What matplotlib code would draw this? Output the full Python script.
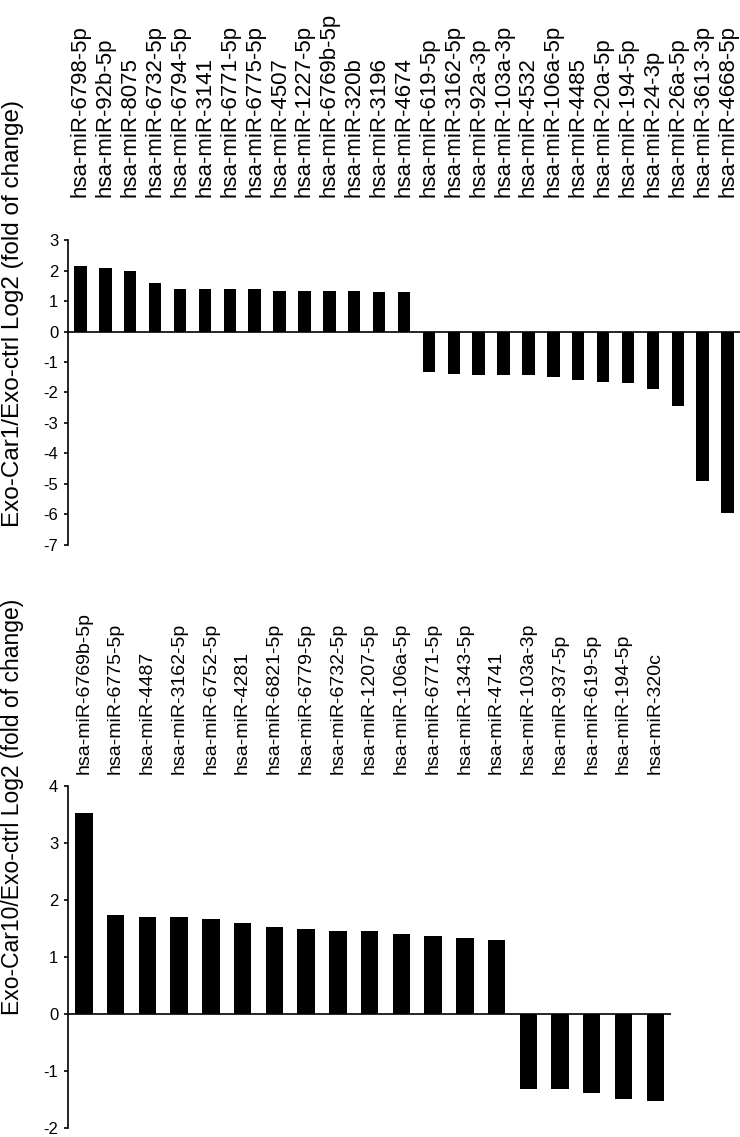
import numpy as np
import matplotlib
matplotlib.use('Agg')
import matplotlib.pyplot as plt

plt.rcParams['font.family'] = ['Liberation Sans', 'DejaVu Sans']
plt.rcParams['axes.unicode_minus'] = False

# Panel 1: Exo-Car1 vs Exo-ctrl
car1_labels = ['hsa-miR-6798-5p', 'hsa-miR-92b-5p', 'hsa-miR-8075', 'hsa-miR-6732-5p',
               'hsa-miR-6794-5p', 'hsa-miR-3141', 'hsa-miR-6771-5p', 'hsa-miR-6775-5p',
               'hsa-miR-4507', 'hsa-miR-1227-5p', 'hsa-miR-6769b-5p', 'hsa-miR-320b',
               'hsa-miR-3196', 'hsa-miR-4674', 'hsa-miR-619-5p', 'hsa-miR-3162-5p',
               'hsa-miR-92a-3p', 'hsa-miR-103a-3p', 'hsa-miR-4532', 'hsa-miR-106a-5p',
               'hsa-miR-4485', 'hsa-miR-20a-5p', 'hsa-miR-194-5p', 'hsa-miR-24-3p',
               'hsa-miR-26a-5p', 'hsa-miR-3613-3p', 'hsa-miR-4668-5p']
car1_values = [2.14, 2.09, 2.0, 1.59, 1.39, 1.39, 1.39, 1.39, 1.33, 1.33, 1.33, 1.33,
               1.29, 1.29, -1.34, -1.39, -1.44, -1.44, -1.44, -1.49, -1.6, -1.65,
               -1.7, -1.9, -2.45, -4.89, -5.95]

# Panel 2: Exo-Car10 vs Exo-ctrl
car10_labels = ['hsa-miR-6769b-5p', 'hsa-miR-6775-5p', 'hsa-miR-4487', 'hsa-miR-3162-5p',
                'hsa-miR-6752-5p', 'hsa-miR-4281', 'hsa-miR-6821-5p', 'hsa-miR-6779-5p',
                'hsa-miR-6732-5p', 'hsa-miR-1207-5p', 'hsa-miR-106a-5p', 'hsa-miR-6771-5p',
                'hsa-miR-1343-5p', 'hsa-miR-4741', 'hsa-miR-103a-3p', 'hsa-miR-937-5p',
                'hsa-miR-619-5p', 'hsa-miR-194-5p', 'hsa-miR-320c']
car10_values = [3.53, 1.74, 1.71, 1.71, 1.66, 1.6, 1.52, 1.49, 1.46, 1.46, 1.41, 1.36,
                1.33, 1.3, -1.32, -1.32, -1.38, -1.49, -1.52]


def draw_panel(ax, labels, values, ylim, width, label_pad, label_size):
    x = np.arange(len(labels))
    ax.bar(x, values, width=width, color='black')
    ax.axhline(0, color='black', lw=1.2)
    ax.set_xlim(-0.5, len(labels) - 0.5)
    ax.set_ylim(*ylim)
    ax.set_yticks(range(ylim[0], ylim[1] + 1))
    for s in ['top', 'right', 'bottom']:
        ax.spines[s].set_visible(False)
    ax.spines['left'].set_linewidth(1.2)
    ax.tick_params(axis='y', direction='out', length=3, width=1.2, labelsize=12, pad=4)
    ax.xaxis.tick_top()
    ax.set_xticks(x)
    ax.set_xticklabels(labels, rotation=90, fontsize=label_size)
    ax.tick_params(axis='x', length=0, pad=label_pad)


fig = plt.figure(figsize=(7.4, 11.37), dpi=100)

ax1 = fig.add_axes([0.0919, 0.5207, 0.9081, 0.2682])
draw_panel(ax1, car1_labels, car1_values, (-7, 3), 0.5, 31, 16)
fig.text(0.017, 0.724, 'Exo-Car1/Exo-ctrl Log2 (fold of change)', rotation=90,
         ha='center', va='center', fontsize=17.5)

ax2 = fig.add_axes([0.0919, 0.0079, 0.815, 0.3008])
draw_panel(ax2, car10_labels, car10_values, (-2, 4), 0.55, 9, 14)
fig.text(0.017, 0.29, 'Exo-Car10/Exo-ctrl Log2 (fold of change)', rotation=90,
         ha='center', va='center', fontsize=16.5)

fig.savefig('out.png', dpi=100)
